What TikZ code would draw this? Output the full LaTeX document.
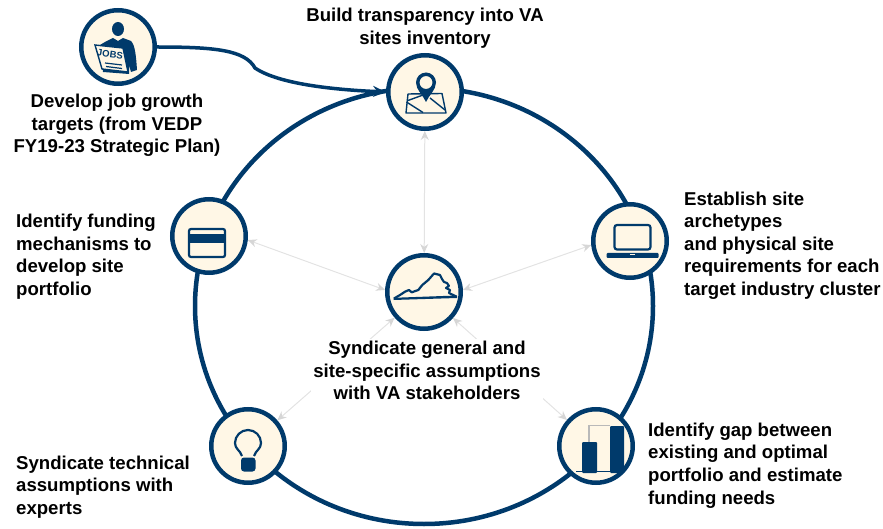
\documentclass[tikz,border=0pt]{standalone}
\usepackage{fontspec}
\setmainfont{Liberation Sans}
\usetikzlibrary{arrows.meta}
\definecolor{navy}{HTML}{003A6B}
\definecolor{cream}{HTML}{FFF7E6}
\definecolor{softgrey}{HTML}{E3E3E3}
\definecolor{headgrey}{HTML}{D6D6D6}
\pgfdeclarelayer{bg}
\pgfsetlayers{bg,main}
\tikzset{
  stage/.style={circle,draw=navy,line width=4.5pt,fill=cream,minimum size=73.5pt,inner sep=0pt},
  lbl/.style={font=\fontsize{18.6}{22.6}\selectfont\bfseries,inner sep=1pt,text=black},
  link/.style={draw=softgrey,line width=1pt,{Stealth[length=9pt,width=8pt,color=headgrey]}-{Stealth[length=9pt,width=8pt,color=headgrey]}},
  ico/.style={fill=navy,draw=none},
  icol/.style={draw=navy,line width=1.4pt,fill=none,line join=round}
}
\begin{document}
\begin{tikzpicture}[x=1pt,y=-1pt]
\useasboundingbox (0,0) rectangle (883,529);
\node[stage] (jobs) at (118,47) {};
\node[stage] (top) at (425,92) {};
\node[stage] (left) at (209,236) {};
\node[stage] (right) at (630,241) {};
\node[stage] (hub) at (424,292) {};
\node[stage] (bl) at (248,446) {};
\node[stage] (br) at (596,446) {};
\begin{pgfonlayer}{bg}
\draw[link] (hub) -- (top);
\draw[link] (hub.177) -- (left.-6);
\draw[link] (hub.3) -- (right.186);
\draw[link] (hub) -- (bl);
\draw[link] (hub) -- (br);
\draw[navy,line width=4.5pt] (424,306) ellipse [x radius=229,y radius=218];
\end{pgfonlayer}
\draw[navy,line width=3.5pt,-{Stealth[length=13pt,width=11pt]}] (jobs.east) .. controls (215,47) and (245,50) .. (255,68) .. controls (280,85) and (340,90) .. (top.west);
% jobs icon
\fill[ico] (118,29) ellipse [x radius=6,y radius=7];
\fill[ico] (105,42) -- (113,38) -- (118,41) -- (123,38) -- (131,41) .. controls (135,45) and (136,55) .. (137,70) -- (131,72) -- (129,65) -- (129,74) -- (103,72) -- (100,45) -- cycle;
\fill[cream,draw=navy,line width=1.4pt] (95,45) -- (123,48) -- (128,72) -- (102,69) -- cycle;
\node[inner sep=0pt,rotate=-8,text=navy,font=\fontsize{9.5}{10}\selectfont\bfseries] (jobstext) at (110,54) {JOBS};
\draw[navy,line width=1.2pt] (105,63) -- (122,65) (106,66.5) -- (122,68.5);
% map pin
\draw[icol] (408,94) -- (442,93.5) -- (446,113) -- (406,113) -- cycle;
\draw[icol] (408,100.5) -- (423,95) (406.5,102) -- (423,112.5) (430,98) -- (445,110);
\fill[navy,even odd rule] (426,102) .. controls (423,95) and (416,90) .. (416,82.5) arc[start angle=180,end angle=360,radius=10] .. controls (436,90) and (429,95) .. (426,102) -- cycle (426,82.5) circle[radius=6.5];
% Virginia
\fill[navy] (393.5,297.8) -- (457,295.5) -- (457,298) -- (393.5,300) -- cycle;
\draw[navy,line width=2.2pt,line join=round] (394,298.5) -- (400,295) -- (405,291.7) -- (409,290) -- (411.7,292.3) -- (418.3,290) -- (422.3,285) -- (428.3,280) -- (434,273.5) -- (440,275) -- (442,279) -- (444,282) -- (447,283) -- (449,286) -- (446,288) -- (450,290) -- (449,293) -- (456.5,296.7);
% chart
\draw[gray!55,line width=1.4pt] (589,442) -- (589,425.5) -- (610,425.5);
\fill[ico,rounded corners=1pt] (582,442) rectangle (597,473);
\fill[ico,rounded corners=1pt] (610,426) rectangle (624,473);
\draw[navy,line width=1pt] (576,471) -- (624,471);
% bulb
\draw[navy,line width=2.2pt,line join=round] (242,456) .. controls (240,450) and (235,449) .. (235,443) arc[start angle=180,end angle=360,radius=13] .. controls (261,449) and (256,450) .. (254,456);
\fill[ico,rounded corners=3pt] (241,457.5) rectangle (255.5,471.5);
% laptop
\draw[navy,line width=2.2pt,rounded corners=2.5pt] (614.5,225) rectangle (650.5,249.5);
\fill[ico,rounded corners=1pt] (606.5,253) rectangle (658.5,258);
\fill[cream] (630,254) rectangle (635,255);
% card
\draw[navy,line width=2.2pt,rounded corners=2pt] (189,229) rectangle (225,257);
\fill[ico] (189,234.5) rectangle (225,243);
% labels
\node[lbl,align=center] (t1) at (425,28) {Build transparency into VA\\sites inventory};
\node[lbl,align=center] (t2) at (117,125.5) {Develop job growth\\targets (from VEDP\\FY19-23 Strategic Plan)};
\node[lbl,align=left,anchor=west] (t3) at (15,256.5) {Identify funding\\mechanisms to\\develop site\\portfolio};
\node[lbl,align=left,anchor=west] (t4) at (683,245.5) {Establish site\\archetypes\\and physical site\\requirements for each\\target industry cluster};
\node[lbl,align=center,fill=white,inner sep=2pt] (t5) at (427,370.5) {Syndicate general and\\site-specific assumptions\\with VA stakeholders};
\node[lbl,align=left,anchor=west] (t6) at (15,487) {Syndicate technical\\assumptions with\\experts};
\node[lbl,align=left,anchor=west] (t7) at (647,465.5) {Identify gap between\\existing and optimal\\portfolio and estimate\\funding needs};
\end{tikzpicture}
\end{document}
